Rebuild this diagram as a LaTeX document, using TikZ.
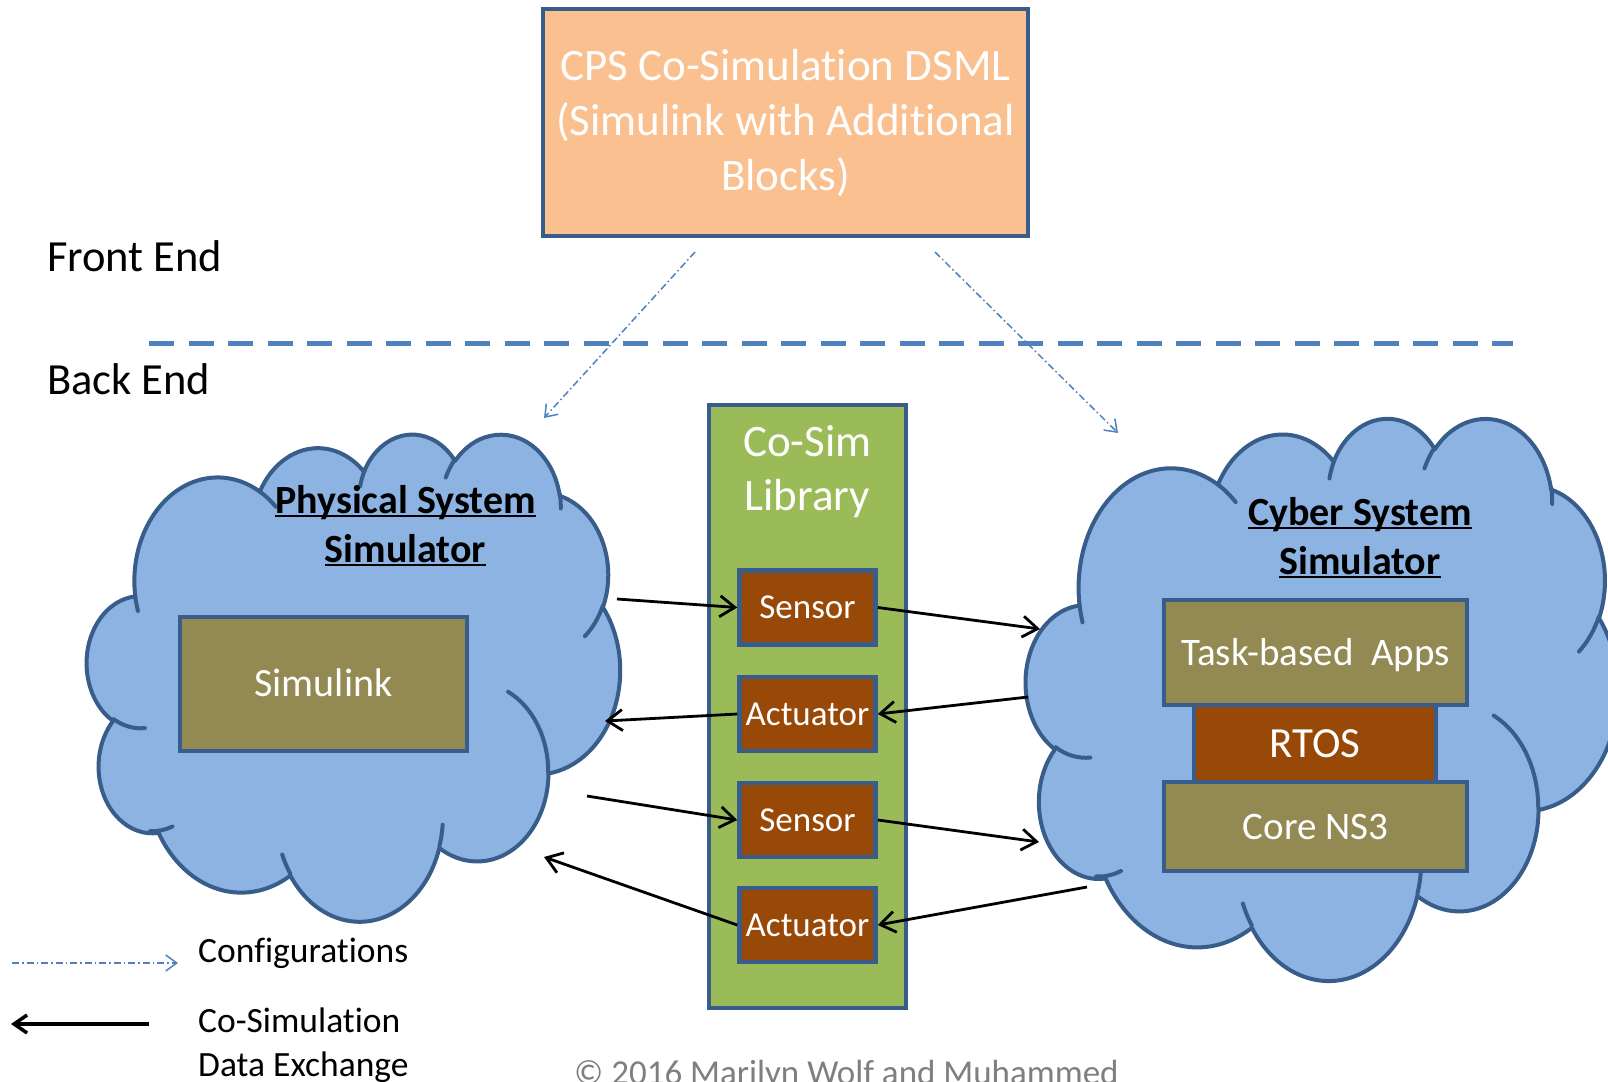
\documentclass[tikz,border=0pt]{standalone}
\usepackage{fontspec}
\setmainfont{Carlito}[Ligatures=NoCommon]
\usetikzlibrary{arrows.meta}
\definecolor{bord}{HTML}{385D8A}
\definecolor{cloudblue}{HTML}{8DB3E2}
\definecolor{peach}{HTML}{FAC090}
\definecolor{libgreen}{HTML}{9BBB59}
\definecolor{rust}{HTML}{984807}
\definecolor{khaki}{HTML}{938953}
\definecolor{sepblue}{HTML}{4F81BD}
\definecolor{copygray}{HTML}{7F7F7F}

\newsavebox\ulbox
\newcommand\ulin[1]{\sbox\ulbox{#1}\rlap{\rule[-0.1em]{\wd\ulbox}{0.06em}}\usebox\ulbox}

\pgfmathdeclarefunction{ootp}{3}{\pgfmathparse{atan2((#1)*sin(#3),(#2)*cos(#3))}}
\pgfmathdeclarefunction{oodel}{4}{%
  \pgfmathsetmacro\oodtmp{ootp(#1,#2,(#3)+(#4))-ootp(#1,#2,#3)}%
  \pgfmathparse{\oodtmp+360*round(((#4)-\oodtmp)/360)}}

\tikzset{
  oo/.style n args={4}{insert path={arc[x radius=#1,y radius=#2,start angle={ootp(#1,#2,#3)},delta angle={oodel(#1,#2,#3,#4)}]}},
  cloudshape/.style={fill=cloudblue, draw=bord, line width=4pt, line join=round},
  cloudline/.style={draw=bord, line width=4pt, line cap=round},
  blk/.style={draw=bord, line width=4.5pt, rectangle, inner sep=0pt, text=white, align=center},
  sensbox/.style={blk, fill=rust, minimum width=136pt, minimum height=74pt,
    font=\fontsize{35}{42}\selectfont, text height=22.5pt, text depth=0pt},
  coarrow/.style={black, line width=2.8pt, -{Straight Barb[length=15pt,width=21pt]}},
  cfgarrow/.style={sepblue, line width=1.5pt, dash pattern=on 7pt off 3pt on 1.5pt off 3pt,
    -{Straight Barb[length=11pt,width=16pt]}},
  legarrow/.style={black, line width=3.5pt, -{Straight Barb[length=13pt,width=18pt]}},
  lbl/.style={inner sep=0pt, font=\fontsize{44.5}{53}\selectfont},
  legtxt/.style={inner sep=0pt, font=\fontsize{35.5}{44}\selectfont},
  ttl/.style={inner sep=0pt, align=center, font=\fontsize{40}{49}\selectfont\bfseries}
}

\newcommand\ppcloud{%
 \draw[cloudshape] (39.00,143.70) [oo={67.53}{91.90}{-190.4875}{123.7805}]
   [oo={53.33}{72.67}{-144.1024}{89.9452}]
   [oo={43.65}{59.45}{-145.8079}{99.7230}]
   [oo={48.57}{65.95}{-130.9861}{117.2417}]
   [oo={53.33}{72.73}{-78.7089}{109.0269}]
   [oo={67.75}{92.20}{-46.2673}{130.2690}]
   [oo={57.85}{78.67}{0.6250}{114.0333}]
   [oo={67.52}{92.15}{22.4516}{115.1726}]
   [oo={77.20}{105.43}{66.2426}{75.7110}]
   [oo={43.60}{59.18}{-274.9421}{146.7356}]
   [oo={43.45}{59.45}{-246.8285}{152.5189}] -- cycle;
 \draw[cloudline] (46.93,261.77) [oo={43.45}{59.45}{86.7420}{26.4295}]
   (69.28,348.99) [oo={43.60}{59.18}{73.6105}{18.3322}]
   (164.78,390.90) [oo={67.52}{92.15}{137.6242}{13.7551}]
   (288.27,347.51) [oo={67.52}{92.15}{6.4533}{15.9984}]
   (341.29,229.54) [oo={57.85}{78.67}{-70.2924}{70.9174}]
   (417.98,153.54) [oo={53.33}{72.73}{30.3180}{27.7515}]
   (383.24,54.26) [oo={48.57}{65.95}{-13.7443}{14.8589}]
   (290.78,39.52) [oo={48.57}{65.95}{-149.1815}{18.1954}]
   (221.41,47.20) [oo={43.65}{59.45}{-163.4943}{17.6864}]
   (140.00,51.92) [oo={67.53}{91.90}{-66.7070}{12.3194}]
   (41.27,157.89) [oo={67.53}{91.90}{157.6544}{11.8539}];
}

\begin{document}
\begin{tikzpicture}[x=1pt,y=-1pt]
\useasboundingbox (0,0) rectangle (1608,1081);
\fill[white] (0,0) rectangle (1608,1081);
\clip (0,0) rectangle (1608,1081);

% separator line
\draw[sepblue, line width=5pt, dash pattern=on 25pt off 14.5pt] (149,343) -- (1513,343);

% front / back end labels
\node[lbl, anchor=base west] (frontend) at (47,271.5) {Front End};
\node[lbl, anchor=base west] (backend) at (47,394.5) {Back End};

% top DSML box
\node[blk, fill=peach, minimum width=485pt, minimum height=227pt,
      font=\fontsize{45}{55}\selectfont] (dsml) at (785.5,122.5)
      {CPS Co-Simulation DSML\\(Simulink with Additional\\Blocks)};

% clouds
\begin{scope}[shift={(87,433)}, xscale=533/432, yscale=487/432]
  \ppcloud
\end{scope}
\begin{scope}[shift={(1026,417)}, xscale=592/432, yscale=562/432]
  \ppcloud
\end{scope}

% physical side
\node[ttl] (phystitle) at (405.5,525.5) {\ulin{Physical System}\\\ulin{Simulator}};
\node[blk, fill=khaki, minimum width=287pt, minimum height=134pt,
      font=\fontsize{40}{48}\selectfont, text height=25.8pt, text depth=0pt] (simulink) at (323.5,684) {Simulink};

% cyber side
\node[ttl] (cybtitle) at (1360,537.5) {\ulin{Cyber System}\\\ulin{Simulator}};
\node[blk, fill=rust, minimum width=242pt, minimum height=77pt,
      font=\fontsize{43}{52}\selectfont, text height=27.7pt, text depth=0pt] (rtos) at (1315,743.5) {RTOS};
\node[blk, fill=khaki, minimum width=303pt, minimum height=105pt,
      font=\fontsize{39}{47}\selectfont, text height=25pt, text depth=0pt] (apps) at (1315.5,652.5) {Task-based\ \ Apps};
\node[blk, fill=khaki, minimum width=303pt, minimum height=89pt,
      font=\fontsize{39}{47}\selectfont, text height=25pt, text depth=0pt] (ns3) at (1315.5,826.5) {Core NS3};

% co-sim library
\node[blk, fill=libgreen, minimum width=197pt, minimum height=603pt] (lib) at (807.5,706.5) {};
\node[inner sep=0pt, align=center, text=white, font=\fontsize{45}{54}\selectfont] (libtxt) at (807.5,471.5) {Co-Sim\\Library};
\node[sensbox] (sens1) at (807.5,607.5) {Sensor};
\node[sensbox] (act1) at (807.5,714) {Actuator};
\node[sensbox] (sens2) at (807.5,820) {Sensor};
\node[sensbox] (act2) at (807.5,925) {Actuator};

% cloud end points
\coordinate (pL1) at (617,599);
\coordinate (pR1) at (1040,629);
\coordinate (pR2) at (1028,697);
\coordinate (pL2) at (605,721);
\coordinate (pL3) at (587,796);
\coordinate (pR3) at (1039,842);
\coordinate (pR4) at (1087,887);
\coordinate (pL4) at (544,857);

\draw[coarrow] (pL1) -- (sens1.west);
\draw[coarrow] (sens1.east) -- (pR1);
\draw[coarrow] (pR2) -- (act1.east);
\draw[coarrow] (act1.west) -- (pL2);
\draw[coarrow] (pL3) -- (sens2.west);
\draw[coarrow] (sens2.east) -- (pR3);
\draw[coarrow] (pR4) -- (act2.east);
\draw[coarrow] (act2.west) -- (pL4);

% configuration arrows
\coordinate (cfgL0) at (695,252);
\coordinate (cfgL1) at (544,418);
\coordinate (cfgR0) at (935,252);
\coordinate (cfgR1) at (1118,433);
\draw[cfgarrow] (cfgL0) -- (cfgL1);
\draw[cfgarrow] (cfgR0) -- (cfgR1);

% legend
\coordinate (legc0) at (12,963);
\coordinate (legc1) at (178,963);
\draw[cfgarrow] (legc0) -- (legc1);
\node[legtxt, anchor=base west] (legcfg) at (198,962) {Configurations};
\coordinate (legd0) at (149,1024);
\coordinate (legd1) at (11,1024);
\draw[legarrow] (legd0) -- (legd1);
\node[legtxt, anchor=west, align=left] (legdata) at (198,1045) {Co-Simulation\\Data Exchange};

% copyright
\node[inner sep=0pt, anchor=base west, text=copygray, font=\fontsize{35}{42}\selectfont] (copyr) at (574,1084) {© 2016 Marilyn Wolf and Muhammed};
\end{tikzpicture}
\end{document}
